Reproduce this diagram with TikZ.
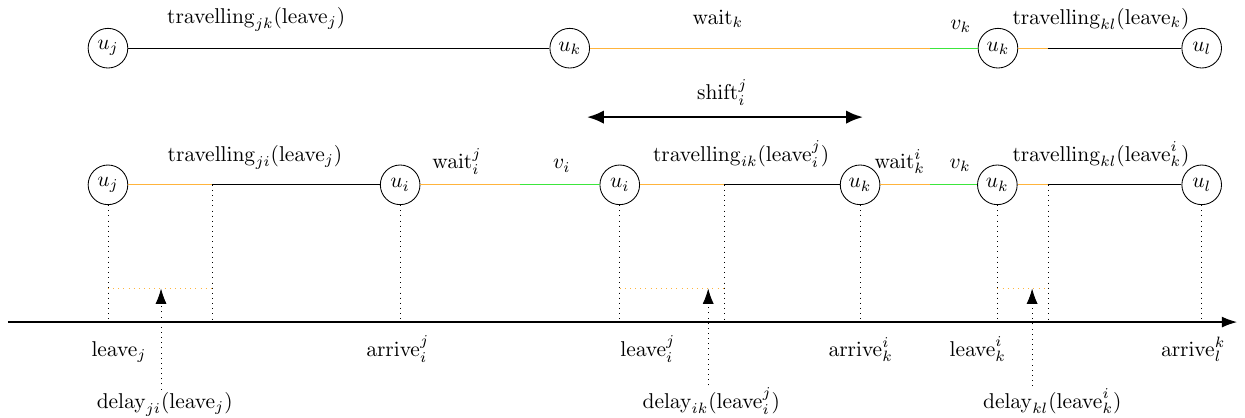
\documentclass[tikz,border=0pt]{standalone}
\usepackage{tikz}
\usetikzlibrary{arrows.meta,positioning}
\definecolor{waitorange}{HTML}{FFB43C}
\definecolor{slackgreen}{HTML}{3CE63C}
\tikzset{
  station/.style={circle,draw,thin,minimum size=0.65cm,inner sep=1pt},
  drive/.style={black,thin},
  waiting/.style={waitorange,line width=0.5pt},
  slack/.style={slackgreen,line width=0.5pt},
  guide/.style={dotted,thin},
  delaybar/.style={dotted,waitorange,thin},
  lbl/.style={anchor=base,inner sep=1pt},
  delayarrow/.style={dotted,-{Latex[length=2.5mm,width=1.8mm]}},
  timeaxis/.style={semithick,-{Latex[length=2.5mm,width=1.8mm]}},
  shiftarrow/.style={very thick,{Latex[length=2.8mm,width=2.2mm]}-{Latex[length=2.8mm,width=2.2mm]}}
}

\begin{document}
\begin{tikzpicture}
    \useasboundingbox (0,0) rectangle (20.41,6.84);

    % schedule before the insertion
    \node[station] (tj) at (1.77,6.05) {$u_j$};
    \node[station] (tk) at (9.34,6.05) {$u_k$};
    \node[station] (tk2) at (16.36,6.05) {$u_k$};
    \node[station] (tl) at (19.70,6.05) {$u_l$};
    \coordinate (tv) at (15.25,6.05);
    \coordinate (tt) at (17.18,6.05);
    \draw[drive] (tj) -- (tk);
    \draw[waiting] (tk) -- (tv);
    \draw[slack] (tv) -- (tk2);
    \draw[waiting] (tk2) -- (tt);
    \draw[drive] (tt) -- (tl);
    \node[lbl] (ttjk) at (4.20,6.46) {$\mathrm{travelling}_{jk}(\mathrm{leave}_j)$};
    \node[lbl] (twk) at (11.77,6.44) {$\mathrm{wait}_k$};
    \node[lbl] (tvk) at (15.75,6.36) {$v_k$};
    \node[lbl] (ttkl) at (18.05,6.44) {$\mathrm{travelling}_{kl}(\mathrm{leave}_k)$};

    % shift of the following stops
    \coordinate (sa) at (9.62,4.92);
    \coordinate (sb) at (14.15,4.92);
    \draw[shiftarrow] (sa) -- (sb);
    \node[lbl] (shift) at (11.84,5.21) {$\mathrm{shift}_i^j$};

    % schedule with u_i inserted
    \node[station] (uj) at (1.77,3.81) {$u_j$};
    \node[station] (ui) at (6.56,3.81) {$u_i$};
    \node[station] (ui2) at (10.16,3.81) {$u_i$};
    \node[station] (uk) at (14.10,3.81) {$u_k$};
    \node[station] (uk2) at (16.35,3.81) {$u_k$};
    \node[station] (ul) at (19.70,3.81) {$u_l$};
    \coordinate (mj) at (3.48,3.81);
    \coordinate (mv1) at (8.52,3.81);
    \coordinate (mi) at (11.87,3.81);
    \coordinate (mv2) at (15.25,3.81);
    \coordinate (mk) at (17.18,3.81);
    \draw[waiting] (uj) -- (mj);
    \draw[drive] (mj) -- (ui);
    \draw[waiting] (ui) -- (mv1);
    \draw[slack] (mv1) -- (ui2);
    \draw[waiting] (ui2) -- (mi);
    \draw[drive] (mi) -- (uk);
    \draw[waiting] (uk) -- (mv2);
    \draw[slack] (mv2) -- (uk2);
    \draw[waiting] (uk2) -- (mk);
    \draw[drive] (mk) -- (ul);
    \node[lbl] (mtji) at (4.18,4.20) {$\mathrm{travelling}_{ji}(\mathrm{leave}_j)$};
    \node[lbl] (mwi) at (7.49,4.07) {$\mathrm{wait}_i^j$};
    \node[lbl] (mvi) at (9.21,4.07) {$v_i$};
    \node[lbl] (mtik) at (12.15,4.20) {$\mathrm{travelling}_{ik}(\mathrm{leave}_i^j)$};
    \node[lbl] (mwk) at (14.75,4.08) {$\mathrm{wait}_k^i$};
    \node[lbl] (mvk) at (15.74,4.08) {$v_k$};
    \node[lbl] (mtkl) at (18.05,4.20) {$\mathrm{travelling}_{kl}(\mathrm{leave}_k^i)$};

    % time axis
    \coordinate (ax0) at (0.13,1.56);
    \coordinate (ax1) at (20.28,1.56);
    \draw[timeaxis] (ax0) -- (ax1);
    \coordinate (db) at (0,2.11);

    % guides down to the axis
    \foreach \p in {uj,ui,ui2,uk,uk2,ul}
      \draw[guide] (\p.south) -- (\p.south |- ax0);
    \foreach \p in {mj,mi,mk}
      \draw[guide] (\p) -- (\p |- ax0);
    \draw[delaybar] (uj |- db) -- (mj |- db);
    \draw[delaybar] (ui2 |- db) -- (mi |- db);
    \draw[delaybar] (uk2 |- db) -- (mk |- db);

    % times on the axis
    \node[lbl] (lj) at (1.95,1.00) {$\mathrm{leave}_j$};
    \node[lbl] (aij) at (6.52,1.00) {$\mathrm{arrive}_i^j$};
    \node[lbl] (lij) at (10.62,1.00) {$\mathrm{leave}_i^j$};
    \node[lbl] (aki) at (14.11,1.00) {$\mathrm{arrive}_k^i$};
    \node[lbl] (lki) at (16.03,1.00) {$\mathrm{leave}_k^i$};
    \node[lbl] (alk) at (19.56,1.00) {$\mathrm{arrive}_l^k$};

    % delays
    \node[lbl] (dji) at (2.70,0.15) {$\mathrm{delay}_{ji}(\mathrm{leave}_j)$};
    \node[lbl] (dik) at (11.66,0.15) {$\mathrm{delay}_{ik}(\mathrm{leave}_i^j)$};
    \node[lbl] (dkl) at (17.25,0.15) {$\mathrm{delay}_{kl}(\mathrm{leave}_k^i)$};
    \coordinate (pji) at (2.64,2.11);
    \coordinate (pik) at (11.61,2.11);
    \coordinate (pkl) at (16.92,2.11);
    \draw[delayarrow] (pji |- dji.north) -- (pji);
    \draw[delayarrow] (pik |- dik.north) -- (pik);
    \draw[delayarrow] (pkl |- dkl.north) -- (pkl);
  \end{tikzpicture}
\end{document}
